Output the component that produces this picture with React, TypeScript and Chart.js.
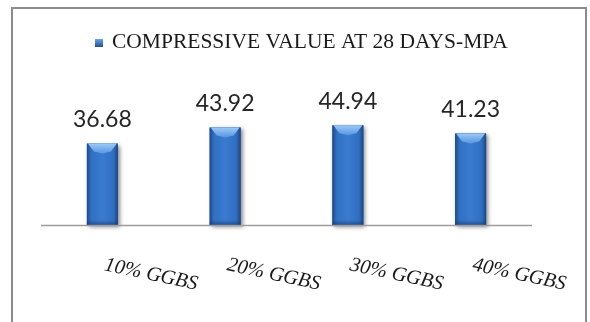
import React, { useEffect, useRef } from "react";
import { Chart, registerables } from "chart.js";

Chart.register(...registerables);

const categories = ["10% GGBS", "20% GGBS", "30% GGBS", "40% GGBS"];
const strengthValues = [36.68, 43.92, 44.94, 41.23];
const seriesName = "COMPRESSIVE VALUE AT 28 DAYS-MPA";

// Bevelled bars, value labels, baseline, slanted category labels and legend
const decorPlugin = {
  id: "decor",
  beforeDatasetsDraw(chart: any) {
    const ctx = chart.ctx;
    const meta = chart.getDatasetMeta(0);
    ctx.save();
    meta.data.forEach((bar: any) => {
      const w = bar.width;
      const l = bar.x - w / 2;
      ctx.shadowColor = "rgba(0,0,0,0.45)";
      ctx.shadowBlur = 4;
      ctx.shadowOffsetX = 2;
      ctx.shadowOffsetY = 2;
      ctx.fillStyle = "#2a60a8";
      ctx.fillRect(l, bar.y, w, bar.base - bar.y);
    });
    ctx.restore();
  },
  afterDatasetsDraw(chart: any) {
    const ctx = chart.ctx;
    const meta = chart.getDatasetMeta(0);
    const area = chart.chartArea;

    meta.data.forEach((bar: any, i: number) => {
      const w = bar.width;
      const l = bar.x - w / 2;
      const r = bar.x + w / 2;
      const t = bar.y;
      const b = bar.base;
      ctx.save();
      const body = ctx.createLinearGradient(l, 0, r, 0);
      body.addColorStop(0, "#1d4a8a");
      body.addColorStop(0.14, "#3170c2");
      body.addColorStop(0.5, "#3a7bd0");
      body.addColorStop(0.86, "#306ec0");
      body.addColorStop(1, "#1b4682");
      ctx.fillStyle = body;
      ctx.fillRect(l, t, w, b - t);

      // top bevel
      const bev = 9;
      const topGrad = ctx.createLinearGradient(0, t, 0, t + bev);
      topGrad.addColorStop(0, "#9ccaf6");
      topGrad.addColorStop(1, "#5d9ae3");
      ctx.fillStyle = topGrad;
      ctx.beginPath();
      ctx.moveTo(l + 1, t);
      ctx.lineTo(r - 1, t);
      ctx.lineTo(r - bev + 2, t + bev - 1);
      ctx.lineTo(bar.x, t + bev + 1);
      ctx.lineTo(l + bev - 2, t + bev - 1);
      ctx.closePath();
      ctx.fill();

      // bottom bevel
      const botGrad = ctx.createLinearGradient(0, b - 5, 0, b);
      botGrad.addColorStop(0, "rgba(20,55,110,0)");
      botGrad.addColorStop(1, "rgba(20,55,110,0.6)");
      ctx.fillStyle = botGrad;
      ctx.fillRect(l, b - 5, w, 5);
      ctx.restore();

      // value label
      ctx.save();
      ctx.font = "23px Lato";
      ctx.fillStyle = "#262626";
      ctx.textAlign = "center";
      ctx.textBaseline = "alphabetic";
      ctx.fillText(strengthValues[i].toFixed(2), bar.x, t - 16.5);
      ctx.restore();
    });

    // category axis line
    ctx.save();
    ctx.strokeStyle = "#9c9c9c";
    ctx.lineWidth = 1.5;
    ctx.beginPath();
    ctx.moveTo(area.left, area.bottom + 0.5);
    ctx.lineTo(area.right, area.bottom + 0.5);
    ctx.stroke();
    ctx.restore();

    // slanted category labels
    const xScale = chart.scales.x;
    categories.forEach((label, i) => {
      const x = xScale.getPixelForValue(i);
      ctx.save();
      ctx.translate(x + 1, area.bottom + 45);
      ctx.rotate((12 * Math.PI) / 180);
      ctx.font = "italic 20.5px 'Liberation Serif'";
      ctx.fillStyle = "#1a1a1a";
      ctx.textAlign = "left";
      ctx.textBaseline = "alphabetic";
      ctx.fillText(label, 0, 0);
      ctx.restore();
    });

    // legend
    ctx.save();
    const lg = ctx.createLinearGradient(95, 39, 95, 47);
    lg.addColorStop(0, "#6aa4ea");
    lg.addColorStop(1, "#1f4f92");
    ctx.fillStyle = lg;
    ctx.fillRect(95, 39, 8, 8);
    ctx.font = "21.5px 'Liberation Serif'";
    ctx.fillStyle = "#1a1a1a";
    ctx.textAlign = "left";
    ctx.textBaseline = "alphabetic";
    ctx.fillText(seriesName, 112, 48);
    ctx.restore();
  },
};

export default function App() {
  const canvasRef = useRef<HTMLCanvasElement | null>(null);

  useEffect(() => {
    if (!canvasRef.current) return;
    const chart = new Chart(canvasRef.current, {
      type: "bar",
      data: {
        labels: categories,
        datasets: [
          {
            label: seriesName,
            data: strengthValues,
            backgroundColor: "rgba(0,0,0,0)",
            borderWidth: 0,
            barThickness: 31,
          },
        ],
      },
      options: {
        animation: false,
        responsive: false,
        maintainAspectRatio: false,
        layout: { padding: { left: 41, right: 58, top: 114, bottom: 97 } },
        plugins: {
          legend: { display: false },
          tooltip: { enabled: false },
        },
        scales: {
          x: { display: false },
          y: { display: false, min: 0, max: 50 },
        },
      },
      plugins: [decorPlugin],
    });
    return () => chart.destroy();
  }, []);

  return (
    <div
      style={{
        position: "fixed",
        left: 0,
        top: 0,
        width: 590,
        height: 322,
        background: "#ffffff",
        overflow: "hidden",
      }}
    >
      <canvas
        ref={canvasRef}
        width={590}
        height={322}
        style={{ position: "absolute", left: 0, top: 0, width: 590, height: 322 }}
      />
      <div
        style={{
          position: "absolute",
          left: 11,
          top: 7,
          width: 572,
          height: 360,
          border: "2px solid #8c8c8c",
          pointerEvents: "none",
        }}
      />
    </div>
  );
}
